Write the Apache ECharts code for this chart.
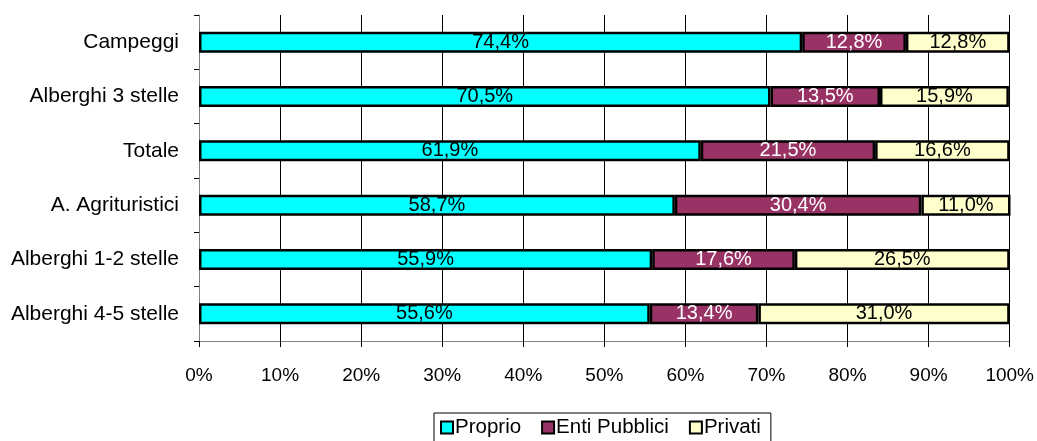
<!DOCTYPE html>
<html>
<head>
<meta charset="utf-8">
<script src="https://cdn.jsdelivr.net/npm/echarts@6/dist/echarts.min.js"></script>
<style>
  html, body { margin: 0; padding: 0; background: #fff; }
  #chart { width: 1037px; height: 441px; }
</style>
</head>
<body>
<div id="chart"></div>
<script>
// categories from bottom to top
const categories = ['Alberghi 4-5 stelle', 'Alberghi 1-2 stelle', 'A. Agrituristici', 'Totale', 'Alberghi 3 stelle', 'Campeggi'];
const proprio = [55.6, 55.9, 58.7, 61.9, 70.5, 74.4];
const entiPubblici = [13.4, 17.6, 30.4, 21.5, 13.5, 12.8];
const privati = [31.0, 26.5, 11.0, 16.6, 15.9, 12.8];

const font = 'Liberation Sans, Arial, sans-serif';
const fmt = p => p.value.toFixed(1).replace('.', ',') + '%';

function makeSeries(name, data, color, textColor) {
  return {
    name: name,
    type: 'bar',
    stack: 'tot',
    data: data,
    barWidth: 21,
    itemStyle: { color: color, borderColor: '#000', borderWidth: 2.5 },
    label: {
      show: true,
      position: 'inside',
      formatter: fmt,
      color: textColor,
      fontFamily: font,
      fontSize: 20
    }
  };
}

const chart = echarts.init(document.getElementById('chart'));
chart.setOption({
  animation: false,
  grid: { left: 199, right: 27, top: 15, bottom: 100 },
  legend: {
    top: 413,
    left: 434,
    itemGap: 20,
    itemWidth: 12,
    itemHeight: 12,
    borderColor: '#000',
    borderWidth: 1,
    padding: [4, 10, 12, 6],
    icon: 'rect',
    itemStyle: { borderColor: '#000', borderWidth: 2 },
    textStyle: { fontFamily: font, fontSize: 20.5, color: '#000', padding: [0, 0, 0, -3] },
    data: ['Proprio', 'Enti Pubblici', 'Privati']
  },
  xAxis: {
    type: 'value',
    min: 0,
    max: 100,
    interval: 10,
    axisLine: { show: true, lineStyle: { color: '#808080', width: 1 } },
    axisTick: { show: true, length: 6, lineStyle: { color: '#000' } },
    axisLabel: { formatter: '{value}%', fontFamily: font, fontSize: 19, color: '#000', margin: 25 },
    splitLine: { show: true, lineStyle: { color: '#000', width: 1 } }
  },
  yAxis: {
    type: 'category',
    data: categories,
    axisLine: { show: true, lineStyle: { color: '#808080', width: 1 } },
    axisTick: { show: true, length: 5, lineStyle: { color: '#000' } },
    axisLabel: { fontFamily: font, fontSize: 21, color: '#000', margin: 20 }
  },
  series: [
    makeSeries('Proprio', proprio, '#00FFFF', '#000'),
    makeSeries('Enti Pubblici', entiPubblici, '#993366', '#fff'),
    makeSeries('Privati', privati, '#FFFFCC', '#000')
  ]
});
</script>
</body>
</html>
